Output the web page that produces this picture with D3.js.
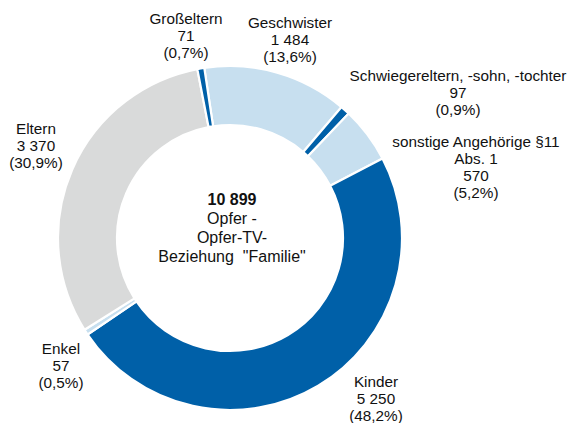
<!DOCTYPE html>
<html>
<head>
<meta charset="utf-8">
<script src="https://cdn.jsdelivr.net/npm/d3@7"></script>
<style>
  html, body { margin: 0; padding: 0; background: #fff; }
  svg { display: block; }
  text { font-family: "Liberation Sans", Arial, sans-serif; fill: #111; }
</style>
</head>
<body>
<svg id="chart" width="569" height="423"></svg>
<script>
// ---- data ----
const categories = ["Geschwister", "Schwiegereltern, -sohn, -tochter", "sonstige Angehörige §11|Abs. 1", "Kinder", "Enkel", "Eltern", "Großeltern"];
const values = [1484, 97, 570, 5250, 57, 3370, 71];
const colorKeys = ["light", "dark", "light", "dark", "light", "gray", "dark"];
const centerTotal = 10899;
const centerLines = ["Opfer -", "Opfer-TV-", "Beziehung  \"Familie\""];

// ---- layout ----
const labelPos = [
  [290, 28], [458, 81], [476, 147], [376, 387], [61, 354], [36, 134], [186, 24]
];
const palette = { dark: "#0060A8", light: "#C7DFEF", gray: "#D9DADA" };
const cx = 230, cy = 238, rOuter = 172, rInner = 113;
const startDeg = -8.6;

const svg = d3.select("#chart");
const locale = d3.formatLocale({ decimal: ",", thousands: "\u00a0", grouping: [3], currency: ["", ""] });
const fmtInt = locale.format(",d");
const fmtPct = locale.format(".1f");
const total = d3.sum(values);

const pie = d3.pie().sort(null)
  .startAngle(startDeg * Math.PI / 180)
  .endAngle(startDeg * Math.PI / 180 + 2 * Math.PI);
const arcs = pie(values);
const arc = d3.arc().innerRadius(rInner).outerRadius(rOuter);

const g = svg.append("g").attr("transform", `translate(${cx},${cy})`);
g.selectAll("path").data(arcs).join("path")
  .attr("d", arc)
  .attr("fill", (d, i) => palette[colorKeys[i]])
  .attr("stroke", "#fff")
  .attr("stroke-width", 2.2)
  .attr("stroke-linejoin", "miter");

// labels
const fs = 15.3, lh = 17;
categories.forEach((c, i) => {
  const lines = c.split("|").concat([fmtInt(values[i]), "(" + fmtPct(values[i] / total * 100) + "%)"]);
  const t = svg.append("text")
    .attr("x", labelPos[i][0]).attr("y", labelPos[i][1])
    .attr("text-anchor", "middle").attr("font-size", fs);
  lines.forEach((l, k) => {
    t.append("tspan").attr("x", labelPos[i][0]).attr("y", labelPos[i][1] + k * lh).text(l);
  });
});

// center text
const ct = svg.append("text").attr("text-anchor", "middle").attr("font-size", 16);
ct.append("tspan").attr("x", 232).attr("y", 205).attr("font-weight", "bold").text(fmtInt(centerTotal));
centerLines.forEach((l, k) => {
  ct.append("tspan").attr("x", 232).attr("y", 224 + k * 19).text(l).style("white-space", "pre");
});
</script>
</body>
</html>
